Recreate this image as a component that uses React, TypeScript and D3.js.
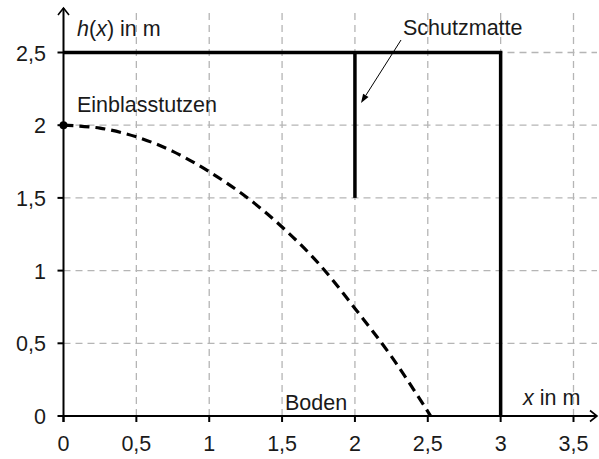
import React from "react";
import * as d3 from "d3";

const xTicks = [0, 0.5, 1, 1.5, 2, 2.5, 3, 3.5];
const yTicks = [0, 0.5, 1, 1.5, 2, 2.5];
const curveX = [0, 0.25, 0.5, 0.75, 1, 1.25, 1.5, 1.75, 2, 2.25, 2.52];
const curveH = [2, 1.98, 1.92, 1.82, 1.68, 1.51, 1.3, 1.05, 0.74, 0.41, 0];
const matTop = 2.5;
const matRight = 3;
const matInnerX = 2;
const matInnerBottom = 1.5;
const nozzle = { x: 0, y: 2 };

const fmt = (v: number) => String(v).replace(".", ",");

export default function App() {
  const W = 599, H = 459;
  const x = d3.scaleLinear().domain([0, 3.5]).range([63.5, 573.5]);
  const y = d3.scaleLinear().domain([0, 2.5]).range([416, 52.5]);
  const x0 = x(0), y0 = y(0);
  const xEnd = 597, yTop = 8;
  const font = "'Liberation Sans', Arial, sans-serif";
  const fs = 21.5;
  const pts = curveX.map((v, i) => [v, curveH[i]] as [number, number]);
  const line = d3.line<[number, number]>().x(d => x(d[0])).y(d => y(d[1])).curve(d3.curveCatmullRom);
  const grid = "#b5b5b5";
  const txt = "#1a1a1a";

  const ax1 = 401, ay1 = 40, ax2 = 361, ay2 = 103;
  const ang = Math.atan2(ay2 - ay1, ax2 - ax1);
  const hl = 9, hw = 3.2;
  const head = [
    [ax2, ay2],
    [ax2 - hl * Math.cos(ang) + hw * Math.sin(ang), ay2 - hl * Math.sin(ang) - hw * Math.cos(ang)],
    [ax2 - hl * Math.cos(ang) - hw * Math.sin(ang), ay2 - hl * Math.sin(ang) + hw * Math.cos(ang)],
  ];

  return (
    <svg width={W} height={H} style={{ position: "absolute", left: 0, top: 0, background: "#fff" }} fontFamily={font}>
      {xTicks.filter(t => t > 0).map(t => (
        <line key={"gx" + t} x1={x(t)} x2={x(t)} y1={y0} y2={yTop} stroke={grid} strokeWidth={1.3} strokeDasharray="7,5" />
      ))}
      {yTicks.filter(t => t > 0).map(t => (
        <line key={"gy" + t} x1={x0} x2={xEnd} y1={y(t)} y2={y(t)} stroke={grid} strokeWidth={1.3} strokeDasharray="7,5" />
      ))}
      <path d={line(pts) || ""} fill="none" stroke="#000" strokeWidth={3.2} strokeDasharray="10,6" />
      <path d={`M${x(0)},${y(matTop)} H${x(matRight)} V${y(0)}`} fill="none" stroke="#000" strokeWidth={3.5} />
      <line x1={x(matInnerX)} x2={x(matInnerX)} y1={y(matTop)} y2={y(matInnerBottom)} stroke="#000" strokeWidth={3.5} />
      <line x1={x0} x2={xEnd} y1={y0} y2={y0} stroke="#000" strokeWidth={2} />
      <line x1={x0} x2={x0} y1={y0 + 6} y2={yTop} stroke="#000" strokeWidth={2} />
      <path d={`M${x0 - 5.5},${yTop + 7} L${x0},${yTop} L${x0 + 5.5},${yTop + 7}`} fill="none" stroke="#000" strokeWidth={1.6} />
      <path d={`M${xEnd - 7},${y0 - 5.5} L${xEnd},${y0} L${xEnd - 7},${y0 + 5.5}`} fill="none" stroke="#000" strokeWidth={1.6} />
      {xTicks.map(t => (
        <g key={"xt" + t}>
          <line x1={x(t)} x2={x(t)} y1={y0} y2={y0 + 6} stroke="#000" strokeWidth={2} />
          <text x={x(t)} y={450.5} textAnchor="middle" fontSize={fs} fill={txt}>{fmt(t)}</text>
        </g>
      ))}
      {yTicks.map(t => (
        <g key={"yt" + t}>
          <line x1={x0 - 6} x2={x0} y1={y(t)} y2={y(t)} stroke="#000" strokeWidth={2} />
          <text x={46} y={y(t) + 8} textAnchor="end" fontSize={fs} fill={txt}>{fmt(t)}</text>
        </g>
      ))}
      <circle cx={x(nozzle.x)} cy={y(nozzle.y)} r={4} fill="#000" />
      <text x={77} y={36} fontSize={fs} fill={txt}><tspan fontStyle="italic">h</tspan>(<tspan fontStyle="italic">x</tspan>) in m</text>
      <text x={77} y={112} fontSize={fs} fill={txt}>Einblasstutzen</text>
      <text x={403} y={35} fontSize={fs} fill={txt}>Schutzmatte</text>
      <text x={285} y={410} fontSize={fs} fill={txt}>Boden</text>
      <text x={523} y={405} fontSize={fs} fill={txt}><tspan fontStyle="italic">x</tspan> in m</text>
      <line x1={ax1} y1={ay1} x2={head[1][0] / 2 + head[2][0] / 2} y2={head[1][1] / 2 + head[2][1] / 2} stroke="#000" strokeWidth={1} />
      <polygon points={head.map(p => p.join(",")).join(" ")} fill="#000" />
    </svg>
  );
}
